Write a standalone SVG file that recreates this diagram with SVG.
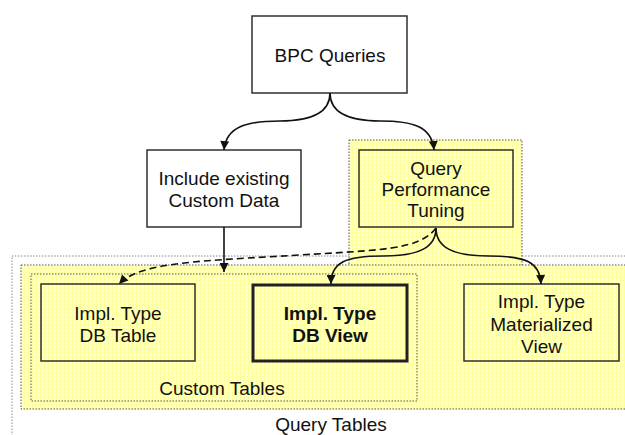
<svg xmlns="http://www.w3.org/2000/svg" width="625" height="435" viewBox="0 0 625 435">
<defs>
<pattern id="tex" width="4" height="4" patternUnits="userSpaceOnUse">
<rect width="4" height="4" fill="#FFFFCC"/>
<rect width="1" height="4" fill="#FFFF99"/>
<rect width="4" height="1" fill="#FFFFA6"/>
</pattern>
<marker id="ah" viewBox="0 0 10 10" refX="10" refY="5" markerWidth="10" markerHeight="9" markerUnits="userSpaceOnUse" orient="auto">
<path d="M0,0 L10,5 L0,10 z" fill="#111"/>
</marker>
</defs>
<style>
text{font-family:"Liberation Sans",Arial,sans-serif;font-size:19px;fill:#111;text-anchor:middle}
.box{fill:none;stroke:#222;stroke-width:1.4}
.wbox{fill:#fff;stroke:#222;stroke-width:1.4}
.frame{stroke:#555;stroke-width:1;stroke-dasharray:1.5 1.5}
.conn{fill:none;stroke:#111;stroke-width:1.6}
</style>
<rect width="625" height="435" fill="#fff"/>
<g id="query-tables">
<rect x="12" y="256" width="640" height="200" fill="none" stroke="#888" stroke-width="1" stroke-dasharray="1.5 1.5"/>
<text x="331" y="431">Query Tables</text>
</g>
<g id="tuning-frame">
<rect x="349" y="140" width="173" height="126" fill="url(#tex)" class="frame"/>
</g>
<g id="yellow-area">
<rect x="21" y="265" width="620" height="144" fill="url(#tex)" class="frame"/>
</g>
<g id="custom-tables">
<rect x="31" y="274" width="386" height="127" fill="none" class="frame"/>
<text x="222" y="395">Custom Tables</text>
</g>
<g id="bpc-queries">
<rect x="252" y="16" width="155" height="77" class="wbox"/>
<text x="330" y="62">BPC Queries</text>
</g>
<g id="include-existing">
<rect x="147" y="150" width="154" height="77" class="wbox"/>
<text x="224" y="185">Include existing</text>
<text x="224" y="207">Custom Data</text>
</g>
<g id="query-performance-tuning">
<rect x="359" y="150" width="154" height="77" class="box"/>
<text x="436" y="175">Query</text>
<text x="436" y="196">Performance</text>
<text x="436" y="217">Tuning</text>
</g>
<g id="db-table">
<rect x="41" y="284" width="154" height="77" class="box"/>
<text x="118" y="320">Impl. Type</text>
<text x="118" y="342">DB Table</text>
</g>
<g id="db-view">
<rect x="253" y="285" width="154" height="76" fill="none" stroke="#222" stroke-width="3"/>
<text x="330" y="320" font-weight="bold">Impl. Type</text>
<text x="330" y="342" font-weight="bold">DB View</text>
</g>
<g id="materialized-view">
<rect x="464" y="284" width="155" height="77" class="box"/>
<text x="541.5" y="308">Impl. Type</text>
<text x="541.5" y="331">Materialized</text>
<text x="541.5" y="353">View</text>
</g>
<g id="connectors">
<path class="conn" marker-end="url(#ah)" d="M330,93 C330,112 312,121 280,121 C248,121 226,126 224,150"/>
<path class="conn" marker-end="url(#ah)" d="M330,93 C330,112 348,121 380,121 C412,121 432,126 434,150"/>
<path class="conn" marker-end="url(#ah)" d="M224,227 L224,272"/>
<path class="conn" marker-end="url(#ah)" stroke-dasharray="7 4" d="M436,228 C420,250 380,250 300,255 C200,261 140,262 119,284"/>
<path class="conn" marker-end="url(#ah)" d="M436,228 C436,247 420,256 383,256 C346,256 331,262 331,284"/>
<path class="conn" marker-end="url(#ah)" d="M436,228 C436,247 452,256 489,256 C526,256 540,262 541,284"/>
</g>
</svg>
